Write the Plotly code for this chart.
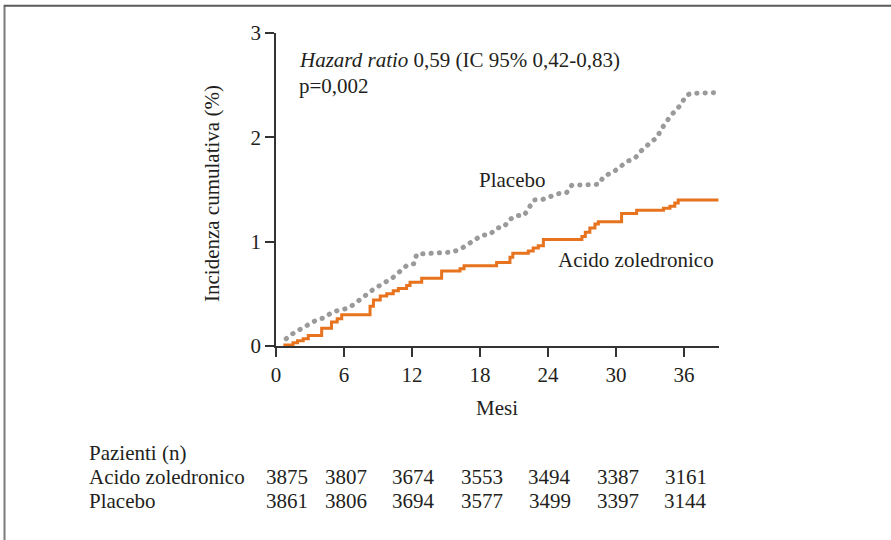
import plotly.graph_objects as go

# ---- data ----
zol_months = [0.65, 1.5, 1.9, 2.4, 2.85, 4.03, 4.9, 5.4, 5.8, 8.3, 8.6, 9.2, 9.77, 10.35,
              10.8, 11.53, 11.83, 12.86, 14.62, 16.24, 16.6, 19.47, 20.65, 20.9, 22.27,
              22.7, 23.15, 23.6, 27.0, 27.3, 27.7, 28.15, 28.45, 30.5, 31.83, 34.2, 34.77,
              35.2, 35.5, 39.05]
zol_values = [0.01, 0.03, 0.05, 0.07, 0.10, 0.17, 0.23, 0.26, 0.30, 0.38, 0.44, 0.48, 0.50,
              0.53, 0.55, 0.58, 0.61, 0.65, 0.72, 0.74, 0.77, 0.80, 0.85, 0.89, 0.91, 0.94,
              0.96, 1.02, 1.05, 1.09, 1.13, 1.17, 1.19, 1.27, 1.30, 1.32, 1.34, 1.37, 1.40,
              1.40]

pla_months = [0.9, 1.15, 1.77, 2.94, 3.59, 4.24, 4.91, 5.59, 6.29, 6.88, 7.47, 8.0, 8.68,
              9.33, 9.83, 10.36, 10.89, 11.53, 12.2, 12.41, 13.97, 15.56, 16.3, 16.97,
              18.15, 18.89, 19.48, 20.12, 20.6, 21.18, 21.89, 22.36, 22.77, 23.54, 24.24,
              24.92, 25.65, 26.1, 28.5, 28.89, 29.92, 31.0, 31.69, 32.13, 33.16, 33.65,
              33.95, 34.86, 35.8, 36.1, 36.54, 39.04]
pla_values = [0.07, 0.096, 0.137, 0.21, 0.25, 0.27, 0.32, 0.345, 0.36, 0.40, 0.45, 0.50,
              0.55, 0.59, 0.62, 0.66, 0.71, 0.77, 0.79, 0.88, 0.89, 0.90, 0.93, 0.98, 1.06,
              1.07, 1.13, 1.14, 1.21, 1.25, 1.25, 1.33, 1.40, 1.405, 1.43, 1.46, 1.47, 1.54,
              1.55, 1.62, 1.68, 1.77, 1.80, 1.86, 1.96, 2.0, 2.07, 2.21, 2.32, 2.39, 2.42,
              2.43]

x_ticks = [0, 6, 12, 18, 24, 30, 36]
y_ticks = [0, 1, 2, 3]
risk_label = "Pazienti (n)"
risk_groups = ["Acido zoledronico", "Placebo"]
risk_zol = [3875, 3807, 3674, 3553, 3494, 3387, 3161]
risk_pla = [3861, 3806, 3694, 3577, 3499, 3397, 3144]

FONT = "Liberation Serif"
FS = 21
TXT = "#231f20"
ORANGE = "#e8731f"
GRAY = "#9a9a9a"

fig = go.Figure()
fig.add_trace(go.Scatter(x=pla_months, y=pla_values, mode="lines",
                         line=dict(color=GRAY, width=5, dash="0.3px,8px"),
                         showlegend=False, hoverinfo="skip"))
fig.add_trace(go.Scatter(x=zol_months, y=zol_values, mode="lines",
                         line=dict(color=ORANGE, width=3, shape="hv"),
                         showlegend=False, hoverinfo="skip"))

L, R, T, B = 276, 172, 33, 194
W, H = 891, 540
pw, ph = W - L - R, H - T - B


def px_x(p):
    return (p - L) / pw


def px_y(p):
    return (H - B - p) / ph


ann = []
ann.append(dict(text="<i>Hazard ratio</i> 0,59 (IC 95% 0,42-0,83)", xref="paper", yref="paper",
                x=px_x(297), y=px_y(60), xanchor="left", yanchor="middle", showarrow=False))
ann.append(dict(text="p=0,002", xref="paper", yref="paper",
                x=px_x(297), y=px_y(86), xanchor="left", yanchor="middle", showarrow=False))
ann.append(dict(text="Placebo", xref="paper", yref="paper",
                x=px_x(512), y=px_y(180), xanchor="center", yanchor="middle", showarrow=False))
ann.append(dict(text="Acido zoledronico", xref="paper", yref="paper",
                x=px_x(636), y=px_y(260), xanchor="center", yanchor="middle", showarrow=False))
ann.append(dict(text="Incidenza cumulativa (%)", xref="paper", yref="paper", textangle=-90,
                x=px_x(212), y=px_y(194), xanchor="center", yanchor="middle", showarrow=False))
ann.append(dict(text="Mesi", xref="paper", yref="paper",
                x=px_x(497), y=px_y(408), xanchor="center", yanchor="middle", showarrow=False))
ann.append(dict(text=risk_label, xref="paper", yref="paper",
                x=px_x(87), y=px_y(453), xanchor="left", yanchor="middle", showarrow=False))
for name, row_y in zip(risk_groups, [477, 501]):
    ann.append(dict(text=name, xref="paper", yref="paper",
                    x=px_x(87), y=px_y(row_y), xanchor="left", yanchor="middle", showarrow=False))
for vals, row_y in zip([risk_zol, risk_pla], [477, 501]):
    for i, (m, v) in enumerate(zip(x_ticks, vals)):
        ann.append(dict(text=str(v), xref="x", yref="paper", x=m, y=px_y(row_y),
                        xanchor="center", yanchor="middle", showarrow=False,
                        xshift=11 if i == 0 else 2))

shapes = [
    dict(type="line", xref="paper", yref="paper", x0=px_x(4.5), x1=px_x(4.5),
         y0=px_y(5), y1=px_y(541), line=dict(color="#7a7a7a", width=2)),
    dict(type="line", xref="paper", yref="paper", x0=px_x(4), x1=px_x(892),
         y0=px_y(5.8), y1=px_y(5.8), line=dict(color="#5a5a5a", width=2)),
]

fig.update_layout(
    width=W, height=H,
    margin=dict(l=L, r=R, t=T, b=B, pad=0),
    paper_bgcolor="white", plot_bgcolor="white",
    font=dict(family=FONT, size=FS, color=TXT),
    annotations=ann, shapes=shapes,
    xaxis=dict(range=[0, 39.1], tickvals=x_ticks, ticks="outside", ticklen=9,
               tickwidth=1.5, tickcolor="#333", showline=True, linecolor="#333",
               linewidth=1.5, showgrid=False, zeroline=False,
               tickfont=dict(family=FONT, size=FS, color=TXT)),
    yaxis=dict(range=[0, 3], tickvals=y_ticks, ticks="outside", ticklen=9,
               tickwidth=1.5, tickcolor="#333", showline=True, linecolor="#333",
               linewidth=1.5, showgrid=False, zeroline=False,
               tickfont=dict(family=FONT, size=FS, color=TXT)),
)

post = (
    "document.body.style.margin='0';"
    "var tr=document.querySelectorAll('.scatterlayer .trace');"
    "if(tr.length){tr[0].querySelectorAll('path.js-line').forEach(function(p){"
    "p.style.strokeLinecap='round';});}"
)
fig.write_html("out.html", post_script=post, config={"displayModeBar": False})
